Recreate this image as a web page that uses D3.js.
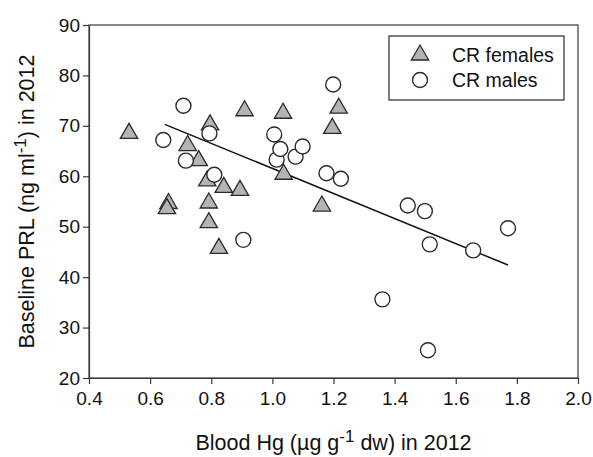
<!DOCTYPE html>
<html><head><meta charset="utf-8">
<script src="https://cdn.jsdelivr.net/npm/d3@7"></script>
<style>body{margin:0;background:#fff;} text{font-family:Arial,"Liberation Sans",sans-serif;}</style>
</head><body>
<svg id="c" width="593" height="457"></svg>
<script>
const femalesX = [0.531,0.796,0.909,1.035,1.217,1.196,0.723,0.759,0.787,0.841,0.894,1.037,0.660,0.655,0.792,0.792,0.825,1.162];
const femalesY = [68.5,70.2,73.0,72.5,73.5,69.5,66.1,63.1,59.1,57.8,57.2,60.4,54.6,53.6,54.7,50.8,45.7,54.1];
const malesX = [0.709,0.643,0.717,0.794,0.810,0.905,1.006,1.014,1.026,1.076,1.099,1.199,1.177,1.224,1.443,1.499,1.515,1.657,1.771,1.360,1.509];
const malesY = [74.0,67.2,63.1,68.5,60.3,47.4,68.3,63.3,65.4,63.9,65.9,78.2,60.6,59.5,54.2,53.1,46.5,45.3,49.7,35.6,25.5];
const fitX = [0.648,1.771];
const fitY = [70.3,42.4];
const xTicks = [0.4,0.6,0.8,1.0,1.2,1.4,1.6,1.8,2.0];
const yTicks = [20,30,40,50,60,70,80,90];
const legendLabels = ["CR females","CR males"];

const svg = d3.select("#c");
const L=89, R=578, T=25, B=378;
const x = d3.scaleLinear().domain([0.4,2.0]).range([L,R]);
const y = d3.scaleLinear().domain([20,90]).range([B,T]);
const axisColor="#3a3a3a";

svg.append("rect").attr("x",L).attr("y",T).attr("width",R-L).attr("height",B-T)
  .attr("fill","none").attr("stroke",axisColor).attr("stroke-width",1.2);

const xa = svg.append("g").attr("transform",`translate(0,${B})`)
  .call(d3.axisBottom(x).tickValues(xTicks).tickFormat(d3.format(".1f")).tickSize(6).tickSizeOuter(0));
const ya = svg.append("g").attr("transform",`translate(${L},0)`)
  .call(d3.axisLeft(y).tickValues(yTicks).tickFormat(d3.format("d")).tickSize(6).tickSizeOuter(0));
[xa,ya].forEach(g=>{
  g.select(".domain").attr("stroke",axisColor).attr("stroke-width",1.2);
  g.selectAll(".tick line").attr("stroke",axisColor).attr("stroke-width",1.2);
  g.selectAll(".tick text").attr("fill","#111").style("font-size","19px").style("font-family","Arial, 'Liberation Sans', sans-serif");
});
xa.selectAll(".tick text").attr("dy","0.71em").attr("y",14);
ya.selectAll(".tick text").attr("x",-9);

svg.append("line").attr("x1",x(fitX[0])).attr("y1",y(fitY[0])).attr("x2",x(fitX[1])).attr("y2",y(fitY[1]))
  .attr("stroke","#111").attr("stroke-width",1.5);

const tri = d3.symbol().type(d3.symbolTriangle).size(130);
const females = femalesX.map((v,i)=>({x:v,y:femalesY[i]}));
const males = malesX.map((v,i)=>({x:v,y:malesY[i]}));

svg.append("g").selectAll("path").data(females).join("path")
  .attr("d",tri).attr("transform",d=>`translate(${x(d.x)},${y(d.y)})`)
  .attr("fill","#b4b4b4").attr("stroke","#2a2a2a").attr("stroke-width",1.3);
svg.append("g").selectAll("circle").data(males).join("circle")
  .attr("cx",d=>x(d.x)).attr("cy",d=>y(d.y)).attr("r",7.5)
  .attr("fill","#fff").attr("stroke","#2a2a2a").attr("stroke-width",1.4);

const lg = svg.append("g");
lg.append("rect").attr("x",389).attr("y",36).attr("width",175).attr("height",64)
  .attr("fill","#fff").attr("stroke","#2a2a2a").attr("stroke-width",1.2);
lg.append("path").attr("d",tri).attr("transform","translate(420,55)")
  .attr("fill","#b4b4b4").attr("stroke","#2a2a2a").attr("stroke-width",1.3);
lg.append("circle").attr("cx",420).attr("cy",80).attr("r",7.5)
  .attr("fill","#fff").attr("stroke","#2a2a2a").attr("stroke-width",1.4);
legendLabels.forEach((t,i)=>{
  lg.append("text").attr("x",452).attr("y",55+i*25).attr("dy","0.35em")
    .style("font-size","19.5px").attr("fill","#111").text(t);
});

const xt = svg.append("text").attr("x",(L+R)/2).attr("y",450).attr("text-anchor","middle")
  .style("font-size","21.5px").attr("fill","#111");
xt.append("tspan").text("Blood Hg (µg g");
xt.append("tspan").attr("dy",-8).style("font-size","17px").text("-1");
xt.append("tspan").attr("dy",8).text(" dw) in 2012");

const yt = svg.append("text").attr("transform",`translate(34,${(T+B)/2}) rotate(-90)`).attr("text-anchor","middle")
  .style("font-size","21.5px").attr("fill","#111");
yt.append("tspan").text("Baseline PRL (ng ml");
yt.append("tspan").attr("dy",-8).style("font-size","17px").text("-1");
yt.append("tspan").attr("dy",8).text(") in 2012");
</script>
</body></html>
